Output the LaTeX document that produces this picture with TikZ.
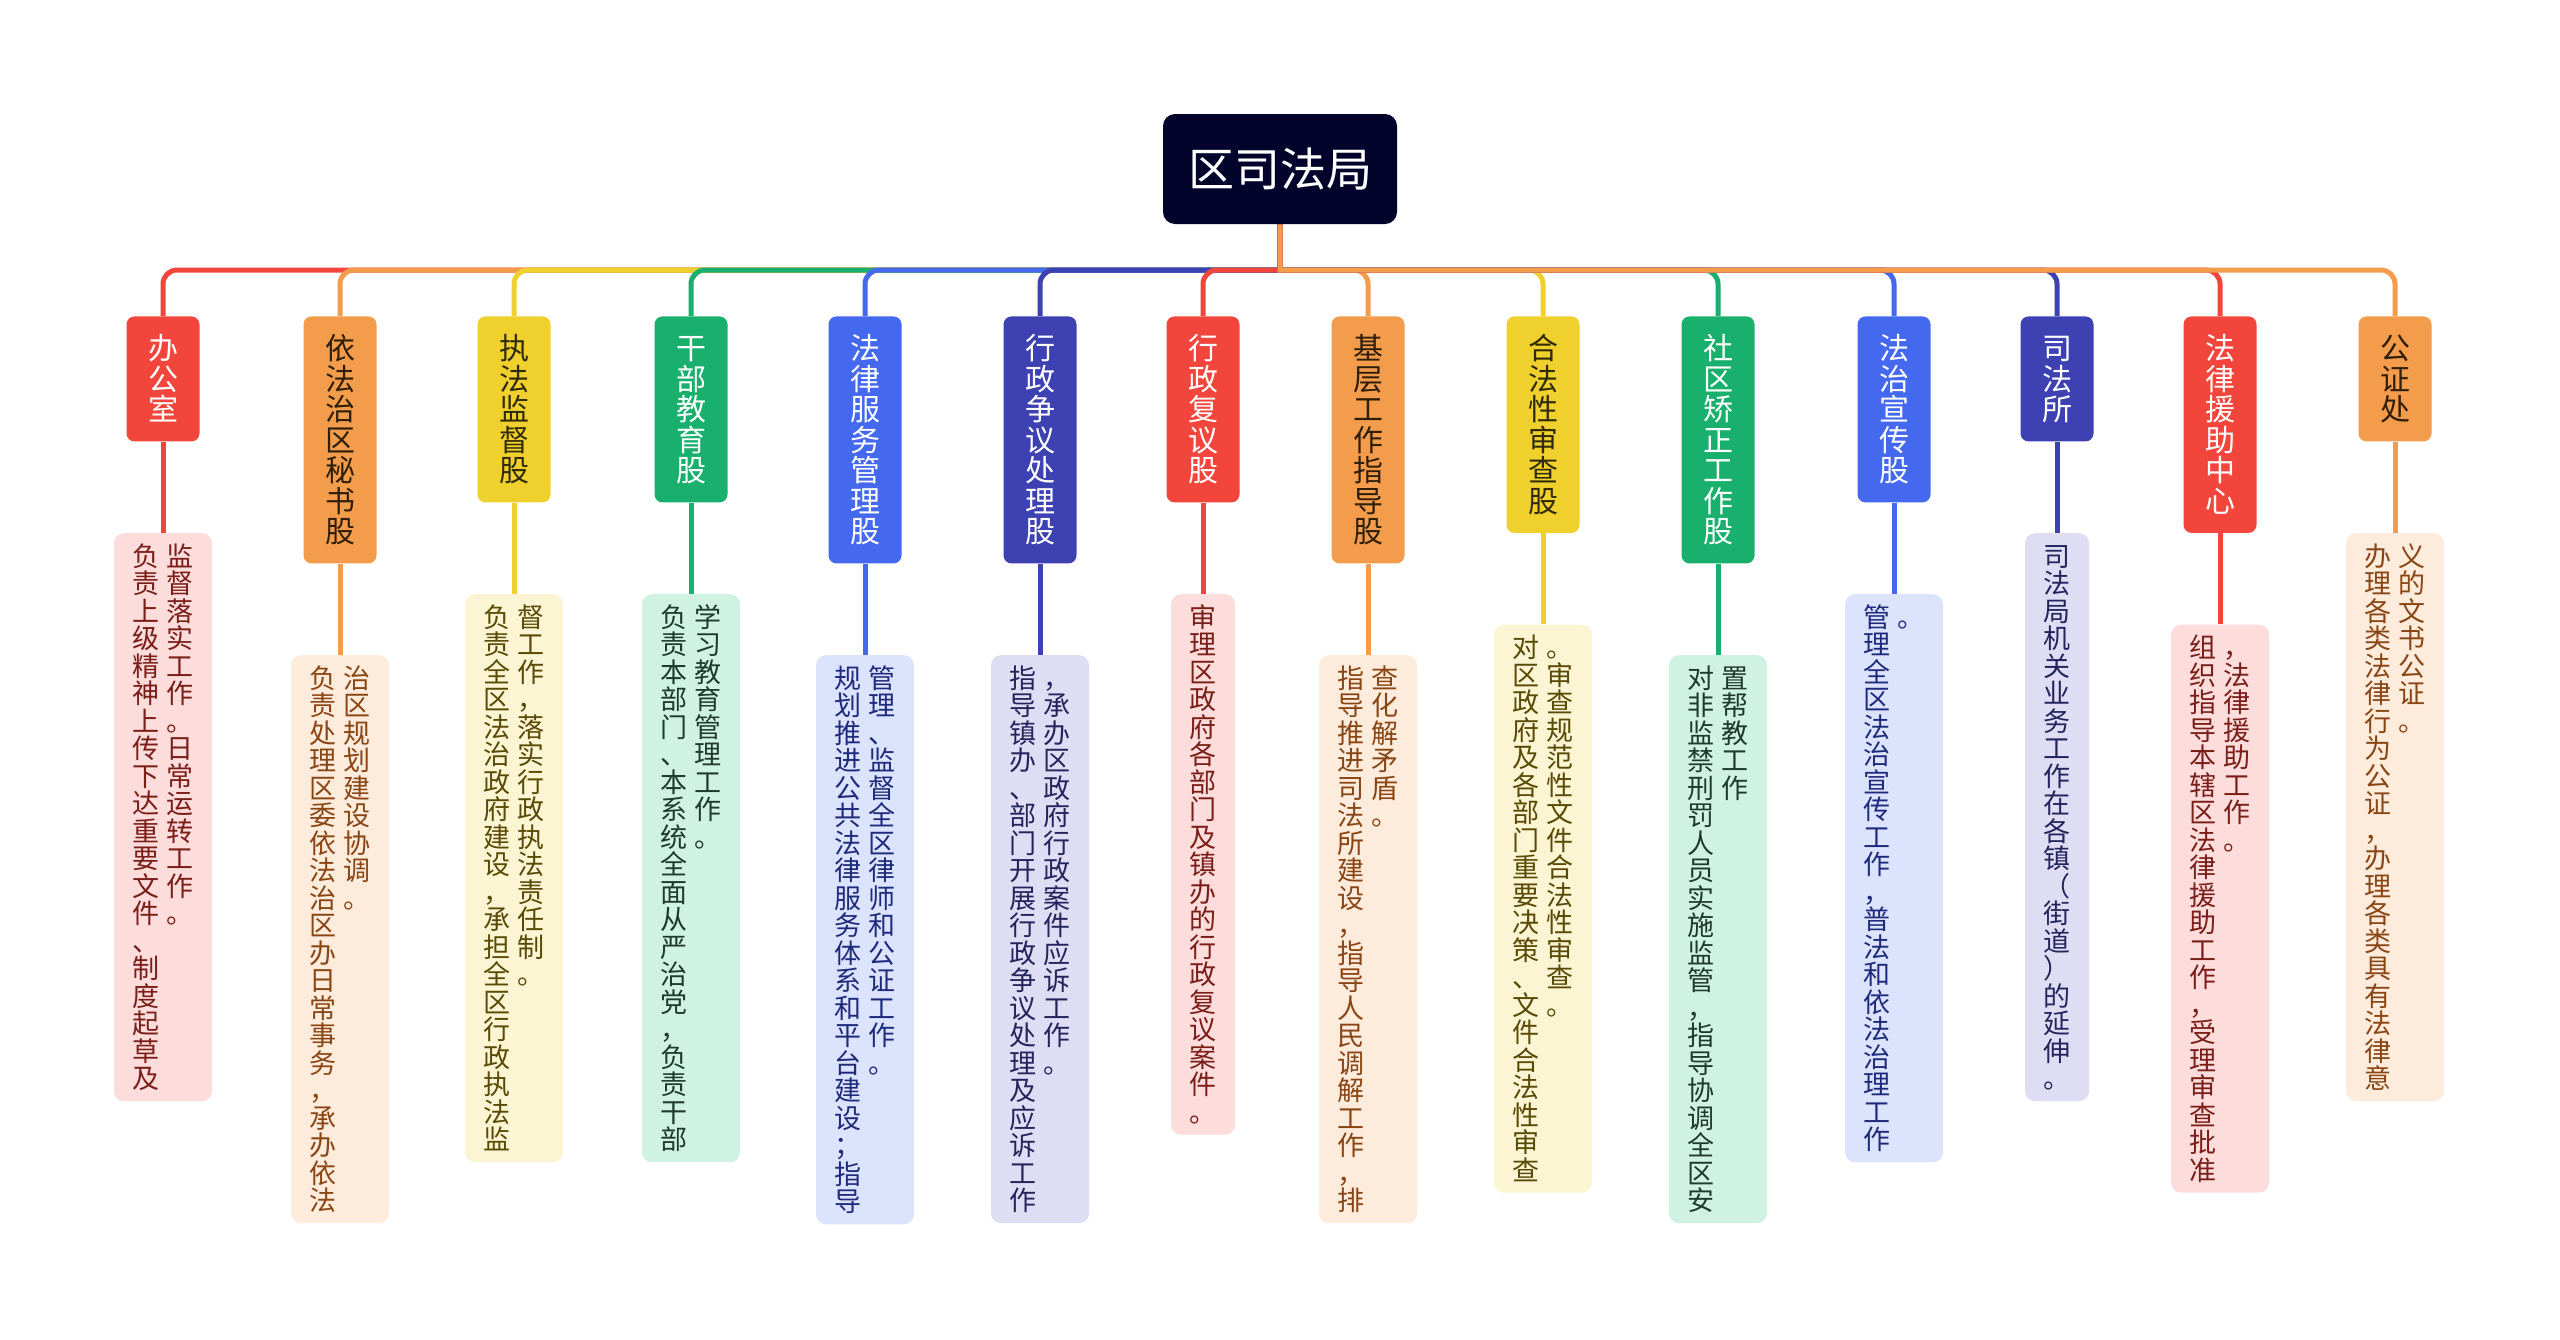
\documentclass[tikz,border=0pt]{standalone}
\usepackage{fontspec}
\newfontfamily\cjk{Noto Sans CJK SC}
\usetikzlibrary{backgrounds}
\definecolor{cRed}{HTML}{F2463D}
\definecolor{cOra}{HTML}{F39C4B}
\definecolor{cYel}{HTML}{F0D02C}
\definecolor{cGre}{HTML}{19AF6D}
\definecolor{cBlu}{HTML}{4468EE}
\definecolor{cInd}{HTML}{3E41B2}
\definecolor{lRed}{HTML}{FDDCDC}
\definecolor{lOra}{HTML}{FDEBDB}
\definecolor{lYel}{HTML}{FCF5D4}
\definecolor{lGre}{HTML}{D0F2E2}
\definecolor{lBlu}{HTML}{DCE3FC}
\definecolor{lInd}{HTML}{DEDDF3}
\definecolor{dRed}{HTML}{7A1E18}
\definecolor{dOra}{HTML}{8A4514}
\definecolor{dYel}{HTML}{594A05}
\definecolor{dGre}{HTML}{1F3A2E}
\definecolor{dBlu}{HTML}{1E2A7C}
\definecolor{dInd}{HTML}{25245C}
\definecolor{tOra}{HTML}{2F1E08}
\definecolor{tYel}{HTML}{2F2A08}
\definecolor{rootc}{HTML}{03042B}
\newlength\vadv
\newcommand\vcell[1]{\hbox to\vadv{\hss\vrule width 0pt height 0.88\vadv depth 0.12\vadv #1\hss}}
\def\vtxtloop#1{\ifx\relax#1\else\vcell{#1}\expandafter\vtxtloop\fi}
\newcommand\vcol[1]{\vtop{\offinterlineskip\vtxtloop#1\relax}}
\newcommand\vtwo[2]{\hbox{\vcol{#1}\kern3.25pt\vcol{#2}}}
\tikzset{
  conn/.style={line width=2.5pt},
  rootbox/.style={rounded corners=6pt, fill=rootc, text=white, minimum width=117pt, minimum height=55pt, inner sep=0pt, font={\cjk\fontsize{23}{23}\selectfont}},
  brbox/.style={rounded corners=4pt, minimum width=36.5pt, inner xsep=0pt, inner ysep=8.375pt, anchor=north, font={\cjk\fontsize{15}{15}\selectfont\setlength\vadv{15.25pt}}},
  detbox/.style={rounded corners=5pt, inner xsep=9.125pt, inner ysep=4.5pt, anchor=north, font={\cjk\fontsize{13.5}{13.5}\selectfont\setlength\vadv{13.75pt}}},
  Rb/.style={brbox, fill=cRed, text=white},
  Ob/.style={brbox, fill=cOra, text=tOra},
  Yb/.style={brbox, fill=cYel, text=tYel},
  Gb/.style={brbox, fill=cGre, text=white},
  Bb/.style={brbox, fill=cBlu, text=white},
  Ib/.style={brbox, fill=cInd, text=white},
  Rd/.style={detbox, fill=lRed, text=dRed},
  Od/.style={detbox, fill=lOra, text=dOra},
  Yd/.style={detbox, fill=lYel, text=dYel},
  Gd/.style={detbox, fill=lGre, text=dGre},
  Bd/.style={detbox, fill=lBlu, text=dBlu},
  Id/.style={detbox, fill=lInd, text=dInd},
}
\begin{document}
\begin{tikzpicture}[x=0.5pt, y=-0.5pt]
\useasboundingbox (0,0) rectangle (2560,1339);
\node[rootbox] (root) at (1280,169) {区司法局};
\coordinate (J) at (1280,270);
% branches
\node[Rb] (b1) at (163,316) {\vcol{办公室}};
\node[Ob] (b2) at (340,316) {\vcol{依法治区秘书股}};
\node[Yb] (b3) at (514,316) {\vcol{执法监督股}};
\node[Gb] (b4) at (691,316) {\vcol{干部教育股}};
\node[Bb] (b5) at (865,316) {\vcol{法律服务管理股}};
\node[Ib] (b6) at (1040,316) {\vcol{行政争议处理股}};
\node[Rb] (b7) at (1203,316) {\vcol{行政复议股}};
\node[Ob] (b8) at (1368,316) {\vcol{基层工作指导股}};
\node[Yb] (b9) at (1543,316) {\vcol{合法性审查股}};
\node[Gb] (b10) at (1718,316) {\vcol{社区矫正工作股}};
\node[Bb] (b11) at (1894,316) {\vcol{法治宣传股}};
\node[Ib] (b12) at (2057,316) {\vcol{司法所}};
\node[Rb] (b13) at (2220,316) {\vcol{法律援助中心}};
\node[Ob] (b14) at (2395,316) {\vcol{公证处}};
% details
\node[Rd] (d1) at ([yshift=-45.5pt]b1.south) {\vtwo{负责上级精神上传下达重要文件、制度起草及}{监督落实工作。日常运转工作。}};
\node[Od] (d2) at ([yshift=-45.5pt]b2.south) {\vtwo{负责处理区委依法治区办日常事务，承办依法}{治区规划建设协调。}};
\node[Yd] (d3) at ([yshift=-45.5pt]b3.south) {\vtwo{负责全区法治政府建设，承担全区行政执法监}{督工作，落实行政执法责任制。}};
\node[Gd] (d4) at ([yshift=-45.5pt]b4.south) {\vtwo{负责本部门、本系统全面从严治党，负责干部}{学习教育管理工作。}};
\node[Bd] (d5) at ([yshift=-45.5pt]b5.south) {\vtwo{规划推进公共法律服务体系和平台建设；指导}{管理、监督全区律师和公证工作。}};
\node[Id] (d6) at ([yshift=-45.5pt]b6.south) {\vtwo{指导镇办、部门开展行政争议处理及应诉工作}{，承办区政府行政案件应诉工作。}};
\node[Rd] (d7) at ([yshift=-45.5pt]b7.south) {\vcol{审理区政府各部门及镇办的行政复议案件。}};
\node[Od] (d8) at ([yshift=-45.5pt]b8.south) {\vtwo{指导推进司法所建设，指导人民调解工作，排}{查化解矛盾。}};
\node[Yd] (d9) at ([yshift=-45.5pt]b9.south) {\vtwo{对区政府及各部门重要决策、文件合法性审查}{。审查规范性文件合法性审查。}};
\node[Gd] (d10) at ([yshift=-45.5pt]b10.south) {\vtwo{对非监禁刑罚人员实施监管，指导协调全区安}{置帮教工作}};
\node[Bd] (d11) at ([yshift=-45.5pt]b11.south) {\vtwo{管理全区法治宣传工作，普法和依法治理工作}{。}};
\node[Id] (d12) at ([yshift=-45.5pt]b12.south) {\vcol{司法局机关业务工作在各镇（街道）的延伸。}};
\node[Rd] (d13) at ([yshift=-45.5pt]b13.south) {\vtwo{组织指导本辖区法律援助工作，受理审查批准}{，法律援助工作。}};
\node[Od] (d14) at ([yshift=-45.5pt]b14.south) {\vtwo{办理各类法律行为公证，办理各类具有法律意}{义的文书公证。}};
\begin{scope}[on background layer]
\fill[white] (0,0) rectangle (2560,1339);
\foreach \i/\c in {1/cRed,2/cOra,3/cYel,4/cGre,5/cBlu,6/cInd,7/cRed,8/cOra,9/cYel,10/cGre,11/cBlu,12/cInd,13/cRed,14/cOra}{
  \draw[conn, draw=\c] (root.south) -- (J) [rounded corners=7pt] -- (J -| b\i.north) -- (b\i.north);
  \draw[conn, draw=\c] (b\i.south) -- (d\i.north);
}
\end{scope}
\end{tikzpicture}
\end{document}
